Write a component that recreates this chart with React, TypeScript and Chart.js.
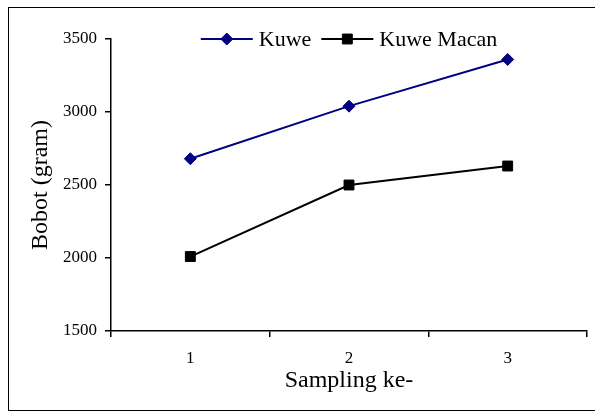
import React, { useEffect, useRef } from "react";
import { Chart, registerables } from "chart.js";

Chart.register(...registerables);

const categories = ["1", "2", "3"];
const kuwe = [2680, 3040, 3360];
const kuweMacan = [2010, 2500, 2630];
const yTicks = [1500, 2000, 2500, 3000, 3500];
const seriesNames = ["Kuwe", "Kuwe Macan"];

const SERIF = "'Liberation Serif', 'Times New Roman', serif";

function drawMarker(ctx: CanvasRenderingContext2D, style: string, r: number, x: number, y: number) {
  ctx.beginPath();
  if (style === "rectRot") {
    ctx.moveTo(x, y - r);
    ctx.lineTo(x + r, y);
    ctx.lineTo(x, y + r);
    ctx.lineTo(x - r, y);
    ctx.closePath();
  } else {
    const s = Math.SQRT1_2 * r;
    ctx.rect(x - s, y - s, 2 * s, 2 * s);
  }
  ctx.fill();
  ctx.stroke();
}

const lineLegend = {
  id: "lineLegend",
  afterDraw(chart: any) {
    const { ctx, chartArea } = chart;
    ctx.save();
    ctx.font = `22px ${SERIF}`;
    const lineLen = 52;
    const gapText = 6;
    const gapItem = 10;
    const items = chart.data.datasets.map((ds: any) => ({
      ds,
      w: lineLen + gapText + ctx.measureText(ds.label).width,
    }));
    const total = items.reduce((s: number, it: any) => s + it.w, 0) + gapItem * (items.length - 1);
    let x = (chartArea.left + chartArea.right) / 2 - total / 2;
    const y = chartArea.top;
    items.forEach((it: any) => {
      const ds = it.ds;
      ctx.strokeStyle = ds.borderColor;
      ctx.lineWidth = ds.borderWidth;
      ctx.beginPath();
      ctx.moveTo(x, y);
      ctx.lineTo(x + lineLen, y);
      ctx.stroke();
      ctx.fillStyle = ds.pointBackgroundColor;
      ctx.strokeStyle = ds.pointBorderColor;
      ctx.lineWidth = 1;
      drawMarker(ctx, ds.pointStyle, ds.pointRadius, x + lineLen / 2, y);
      ctx.fillStyle = "#000";
      ctx.textBaseline = "middle";
      ctx.textAlign = "left";
      ctx.fillText(ds.label, x + lineLen + gapText, y + 1);
      x += it.w + gapItem;
    });
    ctx.restore();
  },
};

export default function App() {
  const ref = useRef<HTMLCanvasElement>(null);
  useEffect(() => {
    if (!ref.current) return;
    const chart = new Chart(ref.current, {
      type: "line",
      data: {
        labels: categories,
        datasets: [
          {
            label: seriesNames[0],
            data: kuwe,
            borderColor: "#000080",
            backgroundColor: "#000080",
            pointBackgroundColor: "#000080",
            pointBorderColor: "#000080",
            borderWidth: 2,
            pointStyle: "rectRot",
            pointRadius: 6,
            pointBorderWidth: 1,
            tension: 0,
          },
          {
            label: seriesNames[1],
            data: kuweMacan,
            borderColor: "#000000",
            backgroundColor: "#000000",
            pointBackgroundColor: "#000000",
            pointBorderColor: "#000000",
            borderWidth: 2,
            pointStyle: "rect",
            pointRadius: 7,
            pointBorderWidth: 1,
            tension: 0,
          },
        ],
      },
      options: {
        animation: false,
        responsive: false,
        maintainAspectRatio: false,
        layout: { padding: { left: 0, right: 5, top: 39, bottom: 0 } },
        plugins: {
          legend: { display: false },
          tooltip: { enabled: false },
        },
        scales: {
          x: {
            type: "category",
            offset: true,
            grid: {
              offset: true,
              drawOnChartArea: false,
              drawTicks: true,
              tickLength: 6,
              color: "#000",
              lineWidth: 1.5,
            },
            border: { display: true, color: "#000", width: 1.5 },
            ticks: {
              color: "#000",
              font: { family: SERIF, size: 17 },
              padding: 11,
            },
            title: {
              display: true,
              text: "Sampling ke-",
              color: "#000",
              font: { family: SERIF, size: 24 },
              padding: { top: 0, bottom: 17 },
            },
            afterFit(scale: any) {
              scale.height = 81;
            },
          },
          y: {
            min: 1500,
            max: 3500,
            afterBuildTicks(scale: any) {
              scale.ticks = yTicks.map((v) => ({ value: v }));
            },
            grid: {
              drawOnChartArea: false,
              drawTicks: true,
              tickLength: 6,
              color: "#000",
              lineWidth: 1.5,
            },
            border: { display: true, color: "#000", width: 1.5 },
            ticks: {
              color: "#000",
              font: { family: SERIF, size: 17 },
              padding: 8,
              callback: (v: any) => String(v),
            },
            title: {
              display: true,
              text: "Bobot (gram)",
              color: "#000",
              font: { family: SERIF, size: 24 },
              padding: { top: 26, bottom: 0 },
            },
            afterFit(scale: any) {
              scale.width = 111;
            },
          },
        },
      },
      plugins: [lineLegend],
    });
    return () => chart.destroy();
  }, []);
  return (
    <div
      style={{
        position: "fixed",
        left: 0,
        top: 0,
        width: 595,
        height: 412,
        overflow: "hidden",
        background: "#fff",
      }}
    >
      <div
        style={{
          position: "absolute",
          left: 8,
          top: 7,
          width: 700,
          height: 402,
          border: "1.5px solid #000",
        }}
      />
      <canvas
        ref={ref}
        width={595}
        height={412}
        style={{ position: "absolute", left: 0, top: 0, width: 595, height: 412 }}
      />
    </div>
  );
}
